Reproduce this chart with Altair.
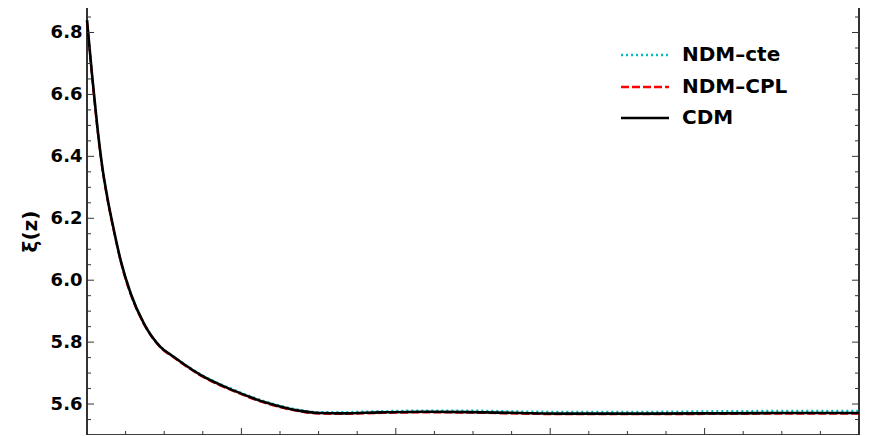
import altair as alt
import pandas as pd

# ---- data ----
z = [0.0, 0.034, 0.067, 0.099, 0.131, 0.175, 0.218, 0.283, 0.369, 0.477, 0.563, 0.624,
     0.732, 0.948, 1.164, 1.380, 1.509, 1.658, 1.898, 2.202, 2.481, 2.804, 3.109, 3.614,
     4.100, 4.618, 5.0]
xi_cdm = [6.840, 6.657, 6.495, 6.366, 6.269, 6.160, 6.064, 5.957, 5.860, 5.784, 5.752, 5.730,
          5.695, 5.644, 5.604, 5.578, 5.571, 5.570, 5.573, 5.575, 5.574, 5.571, 5.569, 5.569,
          5.570, 5.571, 5.571]
xi_cte = [6.840, 6.658, 6.496, 6.367, 6.270, 6.161, 6.065, 5.958, 5.861, 5.785, 5.753, 5.731,
          5.697, 5.647, 5.607, 5.581, 5.574, 5.574, 5.577, 5.579, 5.579, 5.576, 5.575, 5.575,
          5.577, 5.578, 5.578]
xi_cpl = [6.836, 6.652, 6.490, 6.361, 6.265, 6.156, 6.061, 5.954, 5.858, 5.782, 5.750, 5.728,
          5.693, 5.642, 5.602, 5.576, 5.569, 5.568, 5.571, 5.573, 5.572, 5.569, 5.567, 5.567,
          5.568, 5.569, 5.569]
series_names = ["NDM\u2013cte", "NDM\u2013CPL", "CDM"]
y_labels = [5.6, 5.8, 6.0, 6.2, 6.4, 6.6, 6.8]
y_minor = [5.5, 5.55, 5.65, 5.7, 5.75, 5.85, 5.9, 5.95, 6.05, 6.1, 6.15, 6.25, 6.3, 6.35,
           6.45, 6.5, 6.55, 6.65, 6.7, 6.75, 6.85, 6.9]
x_major = [1, 2, 3, 4]
x_minor = [0.25, 0.5, 0.75, 1.25, 1.5, 1.75, 2.25, 2.5, 2.75, 3.25, 3.5, 3.75, 4.25, 4.5, 4.75]

W, H = 772, 435
FONT = "DejaVu Sans"
xs = alt.Scale(domain=[0, 5], nice=False, zero=False)
ys = alt.Scale(domain=[5.5, 6.905], nice=False, zero=False)

yaxis = alt.Axis(values=y_labels, format=".1f", ticks=False, domain=False, grid=False,
                 labelFont=FONT, labelFontWeight="bold", labelFontSize=18, labelColor="black",
                 labelPadding=5, title="\u03be(z)", titleFont=FONT, titleFontWeight="bold",
                 titleFontSize=20, titleColor="black", titleAngle=270, titleX=-57, titleY=231,
                 titleAlign="center", titleBaseline="middle")


def line_layer(vals, color, width, dash=None):
    kw = dict(color=color, strokeWidth=width, interpolate="monotone")
    if dash:
        kw["strokeDash"] = dash
    return alt.Chart(pd.DataFrame({"z": z, "xi": vals})).mark_line(**kw).encode(
        x=alt.X("z:Q", scale=xs, axis=None),
        y=alt.Y("xi:Q", scale=ys, axis=yaxis))


cte = line_layer(xi_cte, "#00BFBF", 2.2, [2, 3])
cpl = line_layer(xi_cpl, "#FF0000", 2.2, [8, 3])
cdm = line_layer(xi_cdm, "black", 2.6)


# inward ticks on all four sides
def yticks(vals, x0, x1):
    return alt.Chart(pd.DataFrame({"xi": vals})).mark_rule(color="#333", strokeWidth=1).encode(
        y=alt.Y("xi:Q", scale=ys, axis=yaxis), x=alt.value(x0), x2=alt.value(x1))


def xticks(vals, y0, y1):
    return alt.Chart(pd.DataFrame({"z": vals})).mark_rule(color="#333", strokeWidth=1).encode(
        x=alt.X("z:Q", scale=xs, axis=None), y=alt.value(y0), y2=alt.value(y1))


ticks = [
    yticks(y_labels, 0, 7), yticks(y_minor, 0, 4),
    yticks(y_labels, W - 7, W), yticks(y_minor, W - 4, W),
    xticks(x_major, H, H - 7), xticks(x_minor, H, H - 4),
    xticks(x_major, 0, 7), xticks(x_minor, 0, 4),
]

# legend
leg_styles = [("#00BFBF", [2, 3]), ("#FF0000", [8, 3]), ("black", None)]
leg_rows = [55, 87, 118]
legend_layers = []
for name, (col, dash), ry in zip(series_names, leg_styles, leg_rows):
    kw = dict(color=col, strokeWidth=2.5)
    if dash:
        kw["strokeDash"] = dash
    legend_layers.append(
        alt.Chart(pd.DataFrame({"n": [name]})).mark_rule(**kw).encode(
            x=alt.value(534), x2=alt.value(582), y=alt.value(ry)))
    legend_layers.append(
        alt.Chart(pd.DataFrame({"n": [name]})).mark_text(
            font=FONT, fontWeight="bold", fontSize=20, align="left", baseline="middle",
            color="black").encode(x=alt.value(595), y=alt.value(ry), text="n:N"))

chart = alt.layer(cte, cpl, cdm, *ticks, *legend_layers).properties(
    width=W, height=H,
    background="white",
    autosize=alt.AutoSizeParams(type="none"),
    padding={"left": 79, "top": -8, "right": 5, "bottom": 0},
).configure_view(stroke="black", strokeWidth=1.6)

chart.save("out.html", embed_options={"renderer": "svg", "actions": False})
